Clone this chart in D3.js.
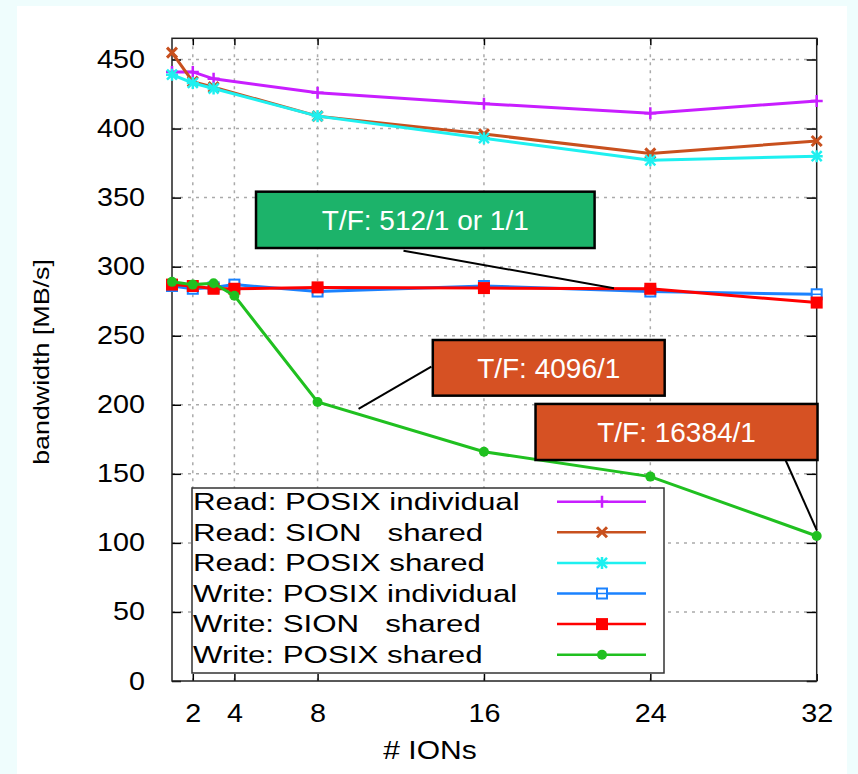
<!DOCTYPE html>
<html>
<head>
<meta charset="utf-8">
<script src="https://cdn.jsdelivr.net/npm/d3@7"></script>
<style>
  html, body { margin: 0; padding: 0; background: #effdfd; }
  svg { display: block; }
  text { font-family: "Liberation Sans", Arial, sans-serif; }
</style>
</head>
<body>
<svg id="chart" width="858" height="774"></svg>
<script>
// number of IONs used for the read and the write runs
const readIons = [1, 2, 3, 8, 16, 24, 32];
const writeIons = [1, 2, 3, 4, 8, 16, 24, 32];

// bandwidth in MB/s
const readPosixIndividual = [441, 441, 436, 426, 418, 411, 420];
const readSionShared = [455, 434, 430, 409, 396, 382, 391];
const readPosixShared = [439, 433, 429, 409, 393, 377, 380];
const writePosixIndividual = [286, 284, 285, 287, 282, 286, 282, 280];
const writeSionShared = [287, 286, 284, 284, 285, 284.5, 284, 274];
const writePosixShared = [289, 287, 288, 279, 202, 166, 148, 105];

const seriesLabels = [
  "Read: POSIX individual",
  "Read: SION   shared",
  "Read: POSIX shared",
  "Write: POSIX individual",
  "Write: SION   shared",
  "Write: POSIX shared"
];

const xTicks = [2, 4, 8, 16, 24, 32];
const yTicks = [0, 50, 100, 150, 200, 250, 300, 350, 400, 450];
const noteTexts = ["T/F: 512/1 or 1/1", "T/F: 4096/1", "T/F: 16384/1"];

const series = [
  { label: seriesLabels[0], ions: readIons, values: readPosixIndividual, color: "#c81eff", symbol: "plus" },
  { label: seriesLabels[1], ions: readIons, values: readSionShared, color: "#c8501e", symbol: "cross" },
  { label: seriesLabels[2], ions: readIons, values: readPosixShared, color: "#1ef0f0", symbol: "star" },
  { label: seriesLabels[3], ions: writeIons, values: writePosixIndividual, color: "#1a82ff", symbol: "openSquare" },
  { label: seriesLabels[4], ions: writeIons, values: writeSionShared, color: "#ff0000", symbol: "square" },
  { label: seriesLabels[5], ions: writeIons, values: writePosixShared, color: "#20c020", symbol: "circle" }
];

const svg = d3.select("#chart");

// white panel on the light page
svg.append("rect")
  .attr("x", 17)
  .attr("y", 6)
  .attr("width", 830)
  .attr("height", 768)
  .attr("fill", "#ffffff");

const plotLeft = 172, plotRight = 816.7, plotTop = 38.3, plotBottom = 681;

const x = d3.scaleLinear().domain([1, 32]).range([plotLeft, plotRight]);
const y = d3.scaleLinear().domain([0, 450]).range([plotBottom, 59.5]);

// grid
const grid = svg.append("g")
  .attr("stroke", "#aaaaaa")
  .attr("stroke-width", 1.5)
  .attr("stroke-dasharray", "3,5");
grid.selectAll(".gy")
  .data(yTicks.filter((d) => d > 0))
  .enter()
  .append("line")
  .attr("x1", plotLeft)
  .attr("x2", plotRight)
  .attr("y1", (d) => y(d))
  .attr("y2", (d) => y(d));
grid.selectAll(".gx")
  .data(xTicks.filter((d) => d < 32))
  .enter()
  .append("line")
  .attr("x1", (d) => x(d))
  .attr("x2", (d) => x(d))
  .attr("y1", plotTop)
  .attr("y2", plotBottom);

// axes
function styleAxis(g) {
  g.select(".domain").remove();
  g.selectAll(".tick line").attr("stroke", "#000").attr("stroke-width", 1.5);
}

svg.append("g")
  .attr("transform", `translate(${plotLeft},0)`)
  .call(d3.axisLeft(y).tickValues(yTicks).tickSize(-9).tickPadding(0))
  .call(styleAxis)
  .call((g) =>
    g.selectAll("text")
      .attr("font-size", 25)
      .attr("fill", "#000")
      .attr("x", -27 / 1.15)
      .attr("transform", "scale(1.15,1)")
  );

svg.append("g")
  .attr("transform", `translate(${plotRight},0)`)
  .call(d3.axisRight(y).tickValues(yTicks).tickSize(-10).tickFormat(""))
  .call(styleAxis);

svg.append("g")
  .attr("transform", `translate(0,${plotBottom})`)
  .call(d3.axisBottom(x).tickValues(xTicks).tickSize(-7).tickPadding(23))
  .call(styleAxis)
  .call((g) =>
    g.selectAll("text")
      .attr("font-size", 25)
      .attr("fill", "#000")
      .attr("transform", "scale(1.15,1)")
  );

svg.append("g")
  .attr("transform", `translate(0,${plotTop})`)
  .call(d3.axisTop(x).tickValues(xTicks).tickSize(-7).tickFormat(""))
  .call(styleAxis);

// frame
svg.append("rect")
  .attr("x", plotLeft)
  .attr("y", plotTop)
  .attr("width", plotRight - plotLeft)
  .attr("height", plotBottom - plotTop)
  .attr("fill", "none")
  .attr("stroke", "#222")
  .attr("stroke-width", 1.5);

// axis titles
svg.append("text")
  .attr("transform", "translate(49,362) rotate(-90) scale(1.22,1)")
  .attr("text-anchor", "middle")
  .attr("font-size", 22)
  .text("bandwidth [MB/s]");

svg.append("text")
  .attr("transform", "translate(430,759) scale(1.2,1)")
  .attr("text-anchor", "middle")
  .attr("font-size", 25)
  .text("# IONs");

// markers
function drawMarker(g, type, color, cx, cy) {
  const s = 6;
  if (type === "plus" || type === "star") {
    g.append("path")
      .attr("d", `M${cx - s},${cy}H${cx + s}M${cx},${cy - s}V${cy + s}`)
      .attr("stroke", color)
      .attr("stroke-width", 2.5);
  }
  if (type === "cross" || type === "star") {
    const c = 5;
    g.append("path")
      .attr("d", `M${cx - c},${cy - c}L${cx + c},${cy + c}M${cx - c},${cy + c}L${cx + c},${cy - c}`)
      .attr("stroke", color)
      .attr("stroke-width", type === "star" ? 2.5 : 3);
  }
  if (type === "openSquare") {
    g.append("rect")
      .attr("x", cx - 5)
      .attr("y", cy - 5)
      .attr("width", 10)
      .attr("height", 10)
      .attr("fill", "#fff")
      .attr("stroke", color)
      .attr("stroke-width", 2);
    g.append("line")
      .attr("x1", cx - 5)
      .attr("x2", cx + 5)
      .attr("y1", cy)
      .attr("y2", cy)
      .attr("stroke", color)
      .attr("stroke-width", 1.5);
  }
  if (type === "square") {
    g.append("rect")
      .attr("x", cx - 6)
      .attr("y", cy - 6)
      .attr("width", 12)
      .attr("height", 12)
      .attr("fill", color);
  }
  if (type === "circle") {
    g.append("circle")
      .attr("cx", cx)
      .attr("cy", cy)
      .attr("r", 5)
      .attr("fill", color);
  }
}

// data lines
const line = d3.line()
  .x((d) => x(d[0]))
  .y((d) => y(d[1]));

series.forEach((s) => {
  const pts = s.ions.map((ion, i) => [ion, s.values[i]]);
  const g = svg.append("g");
  g.append("path")
    .datum(pts)
    .attr("fill", "none")
    .attr("stroke", s.color)
    .attr("stroke-width", 3)
    .attr("d", line);
  pts.forEach((p) => drawMarker(g, s.symbol, s.color, x(p[0]), y(p[1])));
});

// legend
const legend = svg.append("g");
legend.append("rect")
  .attr("x", 192)
  .attr("y", 488)
  .attr("width", 472)
  .attr("height", 185)
  .attr("fill", "#fff")
  .attr("stroke", "#333")
  .attr("stroke-width", 1.5);

series.forEach((s, i) => {
  const cy = 501.7 + i * 30.6;
  legend.append("text")
    .attr("transform", `translate(193,${cy}) scale(1.36,1)`)
    .attr("dy", "0.36em")
    .attr("font-size", 23)
    .attr("xml:space", "preserve")
    .style("white-space", "pre")
    .text(s.label);
  legend.append("line")
    .attr("x1", 557)
    .attr("x2", 646)
    .attr("y1", cy)
    .attr("y2", cy)
    .attr("stroke", s.color)
    .attr("stroke-width", 2.5);
  drawMarker(legend, s.symbol, s.color, 602, cy);
});

// annotation boxes, placed in data units
const notes = [
  { text: noteTexts[0], x0: 5.04, x1: 21.32, y0: 354.3, y1: 313.5, fill: "#1cb36a", from: [12.13, 311.6], to: [22.25, 284.4] },
  { text: noteTexts[1], x0: 13.54, x1: 24.69, y0: 246.9, y1: 206.6, fill: "#d65123", from: [13.47, 227.6], to: [9.97, 197] },
  { text: noteTexts[2], x0: 18.48, x1: 32.04, y0: 200.6, y1: 160, fill: "#d65123", from: [30.5, 160], to: [32, 109.3] }
];

notes.forEach((n) => {
  svg.append("line")
    .attr("x1", x(n.from[0]))
    .attr("y1", y(n.from[1]))
    .attr("x2", x(n.to[0]))
    .attr("y2", y(n.to[1]))
    .attr("stroke", "#000")
    .attr("stroke-width", 2);
  svg.append("rect")
    .attr("x", x(n.x0))
    .attr("y", y(n.y0))
    .attr("width", x(n.x1) - x(n.x0))
    .attr("height", y(n.y1) - y(n.y0))
    .attr("fill", n.fill)
    .attr("stroke", "#000")
    .attr("stroke-width", 2.5);
  svg.append("text")
    .attr("x", (x(n.x0) + x(n.x1)) / 2)
    .attr("y", (y(n.y0) + y(n.y1)) / 2)
    .attr("dy", "0.36em")
    .attr("text-anchor", "middle")
    .attr("font-size", 28)
    .attr("fill", "#fff")
    .text(n.text);
});
</script>
</body>
</html>
